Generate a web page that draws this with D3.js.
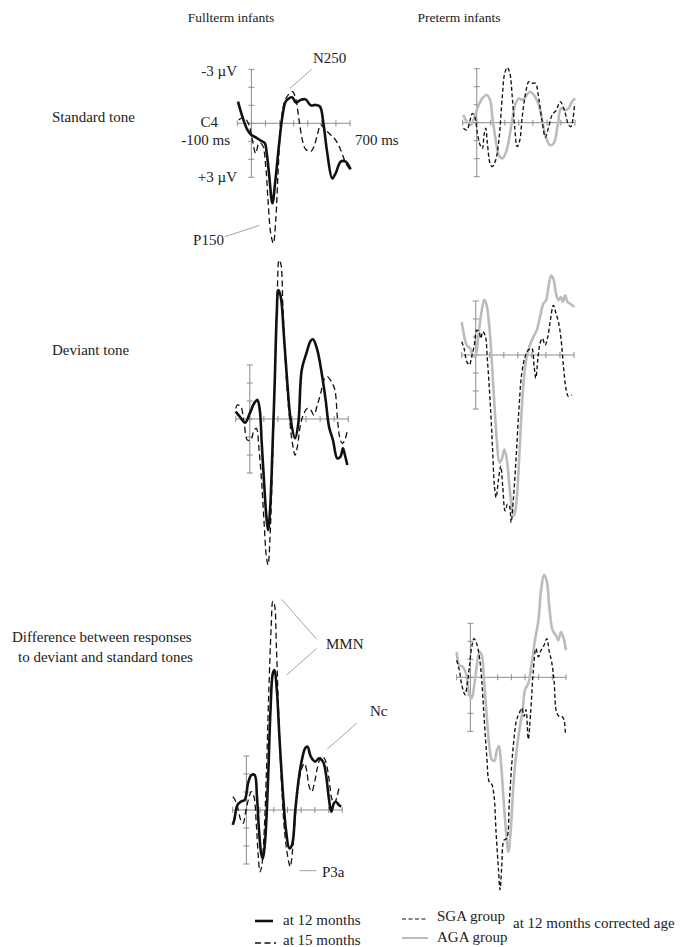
<!DOCTYPE html>
<html><head><meta charset="utf-8">
<script src="https://cdn.jsdelivr.net/npm/d3@7"></script>
<style>
body{margin:0;background:#fff}
svg text{font-family:"Liberation Serif","Times New Roman",serif;fill:#222}
</style>
</head><body>
<svg id="c" width="680" height="947"></svg>
<script>
// ---- tick values ----
const xTicks = [-100, 0, 100, 200, 300, 400, 500, 600, 700];   // ms
const yTicks = [-3, -2, -1, 0, 1, 2, 3];                        // µV (negative up)

// ---- waveforms: [ms, µV] ----
const stdFull12 = [[-95,-1.2],[-64,-0.37],[-28,0.37],[0,0.65],[31,0.78],[66,0.96],[95,1.1],[109,1.67],[125,2.78],[149,4.44],[170,3.2],[196,1.2],[220,-0.37],[243,-1.2],[267,-1.39],[291,-1.44],[316,-1.15],[350,-1.3],[385,-1.33],[421,-1.0],[456,-1.02],[487,-0.93],[511,0],[539,1.67],[574,3.06],[598,2.78],[634,2.13],[669,2.13],[704,2.56]];
const stdFull15 = [[-90,-0.19],[-52,-0.33],[-17,0.09],[7,0.93],[31,1.67],[54,1.1],[78,1.2],[102,2.4],[118,4.26],[137,6.1],[156,6.67],[173,5.37],[189,2.78],[208,0.19],[232,-1.1],[260,-1.57],[291,-1.76],[314,-1.39],[338,-0.19],[362,0.93],[385,1.44],[421,1.57],[444,1.3],[468,0.65],[492,0.09],[527,0.37],[563,0.65],[598,0.93],[634,1.48],[669,2.2],[693,2.5]];
const stdPreAGA = [[-95,-0.43],[-71,-0.06],[-43,0.13],[-19,-0.24],[9,-0.89],[40,-1.35],[71,-1.54],[95,-1.26],[111,-0.33],[135,0.96],[158,1.8],[182,1.98],[206,1.7],[229,0.96],[253,-0.15],[277,-1.07],[300,-1.35],[324,-1.26],[348,-1.44],[378,-1.72],[407,-1.54],[442,-0.98],[466,-0.15],[489,0.69],[520,1.24],[548,1.15],[577,0.13],[600,-0.8],[631,-0.7],[655,-0.8],[678,-1.17],[702,-1.35]];
const stdPreSGA = [[-95,0.31],[-71,0.41],[-47,-0.15],[-31,-0.52],[-14,-0.33],[5,0.59],[24,1.24],[40,1.43],[52,0.69],[64,0.31],[76,1.15],[95,2.26],[111,2.44],[135,2.07],[158,0.96],[182,-1.44],[199,-2.74],[218,-3.07],[236,-2.74],[253,-1.44],[270,0.22],[288,1.33],[307,0.96],[324,-0.33],[348,-1.63],[371,-2.28],[395,-2.19],[418,-2.19],[442,-1.35],[466,-0.06],[489,0.81],[513,0.22],[537,-0.43],[567,-0.7],[595,-1.17],[624,-0.7],[655,0.13],[671,0.22],[686,-0.24],[697,-1.07]];
const devFull12 = [[-100,-0.41],[-71,-0.13],[-33,0.2],[0,-0.31],[31,-0.87],[54,-1.06],[71,-0.5],[85,1.35],[102,3.57],[118,5.43],[130,6.17],[144,5.06],[161,1.72],[177,-1.98],[191,-5.69],[203,-7.17],[220,-6.8],[243,-4.57],[267,-1.98],[291,0.06],[322,1.07],[345,0.24],[369,-2.72],[402,-3.65],[433,-4.35],[449,-4.43],[480,-3.83],[515,-2.35],[539,-1.06],[563,0.43],[591,1.17],[622,2.19],[645,2.09],[662,1.63],[676,2.0],[693,2.56]];
const devFull15 = [[-100,-0.59],[-87,-0.78],[-64,-0.69],[-40,0.24],[-17,1.17],[7,1.17],[31,0.61],[47,0.52],[66,1.72],[85,3.57],[102,5.8],[118,7.65],[130,8.1],[144,6.54],[161,2.65],[180,-2.9],[196,-7.17],[208,-8.83],[220,-8.65],[236,-6.06],[255,-2.9],[279,-0.31],[303,1.35],[322,2.0],[338,1.54],[362,0.24],[385,-0.31],[409,-0.59],[433,-0.5],[456,-0.22],[480,-0.78],[504,-1.43],[527,-2.17],[551,-2.35],[586,-1.98],[605,-1.61],[622,-0.13],[638,0.98],[657,1.35],[676,1.17],[693,0.61]];
const devPreAGA = [[-100,-1.84],[-88,-1.29],[-64,-0.55],[-40,-0.37],[-17,0.09],[2,-0.09],[19,-1.1],[43,-2.49],[62,-3.07],[78,-2.76],[97,-1.56],[114,0.28],[131,2.49],[150,4.7],[169,5.98],[185,5.8],[204,5.25],[221,5.8],[240,7.27],[257,8.47],[273,8.93],[287,8.38],[304,6.54],[321,3.96],[340,1.57],[359,0.28],[382,-0.46],[411,-1.01],[435,-1.38],[458,-2.12],[482,-2.85],[501,-3.04],[518,-3.78],[537,-4.42],[553,-4.24],[572,-3.41],[589,-3.04],[606,-3.22],[620,-2.95],[637,-3.31],[653,-2.95],[672,-2.85],[703,-2.67]];
const devPreSGA = [[-100,-0.74],[-83,-0.37],[-64,0.37],[-45,0.55],[-29,0.09],[-10,-0.55],[7,-1.38],[24,-1.29],[36,-0.92],[50,-1.29],[67,-1.1],[83,0.28],[102,2.49],[119,5.07],[133,7.27],[145,7.92],[162,6.91],[178,6.17],[192,7.27],[209,8.66],[226,8.29],[240,8.38],[252,9.3],[268,8.01],[287,5.8],[306,3.22],[328,1.01],[352,0.09],[375,-0.28],[399,-0.37],[416,0.64],[428,1.29],[442,0.28],[458,-0.64],[475,-0.92],[494,-0.55],[511,-0.92],[530,-1.84],[553,-2.76],[572,-2.3],[589,-1.84],[606,-1.01],[625,0.64],[644,1.93],[660,2.3],[684,2.21]];
const difFull12 = [[-100,0.83],[-89,0.56],[-65,-0.28],[-41,-0.46],[-12,-0.56],[12,-1.48],[36,-1.94],[60,-1.94],[77,-0.74],[92,1.11],[108,2.41],[120,2.69],[137,1.67],[157,-1.48],[176,-5.56],[193,-7.59],[205,-7.78],[222,-6.67],[241,-4.07],[265,-1.11],[289,1.11],[313,2.13],[333,1.94],[357,0],[381,-1.67],[405,-2.78],[429,-3.43],[446,-3.52],[470,-2.96],[501,-2.69],[530,-2.87],[559,-2.69],[578,-2.13],[602,-0.65],[619,0.09],[639,-0.37],[655,-0.46],[675,-0.28],[692,-0.19]];
const difFull15 = [[-100,-0.74],[-89,-0.65],[-65,-0.19],[-41,0.56],[-24,0.74],[-5,0.09],[14,-0.56],[36,-1.02],[55,-0.74],[72,0.74],[87,2.59],[99,3.43],[111,3.15],[128,1.48],[145,-1.85],[164,-6.67],[181,-10.2],[193,-11.6],[205,-11.4],[219,-9.07],[236,-5.19],[255,-1.67],[280,1.3],[304,2.69],[320,3.15],[337,2.22],[357,0.37],[376,-1.11],[400,-2.22],[424,-2.59],[441,-2.13],[458,-1.3],[477,-1.02],[501,-1.67],[520,-2.41],[545,-2.96],[569,-2.87],[593,-2.22],[610,-1.3],[622,-0.65],[641,-0.37],[658,-0.65],[675,-1.2]];
const difPreAGA = [[-100,-1.41],[-81,-0.68],[-56,-0.59],[-32,-0.22],[-7,0.97],[10,1.16],[29,0.42],[46,-0.59],[66,-1.41],[83,-1.23],[100,0.15],[120,2.17],[139,3.82],[156,4.55],[176,4.64],[193,4.09],[210,3.82],[224,4.73],[241,6.56],[261,8.57],[278,9.69],[295,8.57],[315,6.0],[334,4.37],[359,2.9],[383,1.8],[400,0.7],[424,0.33],[449,-0.77],[473,-2.06],[498,-3.16],[517,-4.81],[539,-5.69],[559,-5.36],[578,-3.89],[602,-2.61],[627,-2.33],[644,-2.06],[663,-2.51],[680,-2.24],[700,-1.5]];
const difPreSGA = [[-100,-0.95],[-81,-0.4],[-63,0.42],[-39,0.97],[-22,0.33],[-7,-0.59],[10,-1.69],[27,-2.15],[46,-1.87],[66,-1.14],[83,0.15],[100,2.17],[120,4.37],[139,5.83],[156,5.93],[173,6.57],[188,8.59],[205,10.6],[217,11.8],[229,10.6],[246,9.05],[266,8.95],[285,6.94],[302,4.92],[319,3.45],[339,2.35],[359,1.98],[376,1.71],[393,2.17],[407,1.8],[424,3.45],[441,1.98],[461,-0.4],[480,-1.6],[498,-1.14],[517,-1.5],[539,-1.78],[559,-2.15],[578,-1.41],[595,-0.86],[612,0.15],[632,1.98],[651,2.17],[668,2.17],[685,2.35],[695,3.08]];

// ---- styles ----
const styles = {
  m12: {stroke:"#111", width:2.6, dash:null},
  m15: {stroke:"#111", width:1.3, dash:"6,3.5"},
  sga: {stroke:"#111", width:1.35, dash:"4,2.5"},
  aga: {stroke:"#bcbcbc", width:2.6, dash:null}
};

// ---- panel layout ----
const panels = [
  {xL:237.3, xR:350, zero:123.3, series:[[stdFull15,"m15"],[stdFull12,"m12"]]},
  {xL:462.7, xR:575, zero:122.7, series:[[stdPreAGA,"aga"],[stdPreSGA,"sga"]]},
  {xL:235.7, xR:348.3, zero:419, series:[[devFull15,"m15"],[devFull12,"m12"]]},
  {xL:461.7, xR:574, zero:355, series:[[devPreAGA,"aga"],[devPreSGA,"sga"]]},
  {xL:232.7, xR:342.3, zero:810, series:[[difFull15,"m15"],[difFull12,"m12"]]},
  {xL:456.7, xR:566, zero:677.3, series:[[difPreAGA,"aga"],[difPreSGA,"sga"]]}
];

// annotations in each panel's data coordinates [ms, µV]
const annotations = [
  {p:0, texts:[
    {t:"-3 \u00b5V", at:[-102,-2.63], anchor:"end"},
    {t:"+3 \u00b5V", at:[-102,3.26], anchor:"end"},
    {t:"C4", at:[-237,0.2], anchor:"end"},
    {t:"-100 ms", at:[-152,1.2], anchor:"end"},
    {t:"700 ms", at:[735,1.2], anchor:"start"},
    {t:"N250", at:[437,-3.35], anchor:"start"},
    {t:"P150", at:[-414,6.76], anchor:"start"}],
   lines:[[[428,-3.0],[274,-1.94]], [[-187,6.3],[56,5.67]]]},
  {p:4, texts:[
    {t:"MMN", at:[581,-8.94], anchor:"start"},
    {t:"Nc", at:[902,-5.22], anchor:"start"},
    {t:"P3a", at:[552,3.72], anchor:"start"}],
   lines:[[[258,-11.7],[513,-9.48]], [[513,-8.98],[294,-7.5]], [[805,-4.82],[591,-3.39]], [[386,3.37],[513,3.37]]]}
];

const svg = d3.select("#c");
const axisColor = "#8c8c8c";

panels.forEach((P, i) => {
  const x = d3.scaleLinear().domain([-100, 700]).range([P.xL, P.xR]);
  const y = d3.scaleLinear().domain([-3, 3]).range([P.zero - 54, P.zero + 54]);
  P.x = x; P.y = y;
  const g = svg.append("g");
  // axes
  g.append("line").attr("x1", x(-100)).attr("x2", x(700)).attr("y1", y(0)).attr("y2", y(0))
    .attr("stroke", axisColor).attr("stroke-width", 1);
  g.append("line").attr("x1", x(0)).attr("x2", x(0)).attr("y1", y(-3)).attr("y2", y(3))
    .attr("stroke", axisColor).attr("stroke-width", 1);
  g.selectAll(".xt").data(xTicks).enter().append("line")
    .attr("x1", d => x(d)).attr("x2", d => x(d)).attr("y1", y(0) - 3).attr("y2", y(0) + 3)
    .attr("stroke", axisColor).attr("stroke-width", 1);
  g.selectAll(".yt").data(yTicks).enter().append("line")
    .attr("x1", x(0) - 3).attr("x2", x(0) + 3).attr("y1", d => y(d)).attr("y2", d => y(d))
    .attr("stroke", axisColor).attr("stroke-width", 1);
  // waves
  const line = d3.line().x(d => x(d[0])).y(d => y(d[1])).curve(d3.curveCatmullRom.alpha(0.5));
  P.series.forEach(([data, key]) => {
    const s = styles[key];
    g.append("path").datum(data).attr("d", line).attr("fill", "none")
      .attr("stroke", s.stroke).attr("stroke-width", s.width)
      .attr("stroke-dasharray", s.dash).attr("stroke-linejoin", "round").attr("stroke-linecap", "butt");
  });
});

annotations.forEach(A => {
  const P = panels[A.p];
  A.lines.forEach(l => {
    svg.append("line").attr("x1", P.x(l[0][0])).attr("y1", P.y(l[0][1]))
      .attr("x2", P.x(l[1][0])).attr("y2", P.y(l[1][1]))
      .attr("stroke", "#999").attr("stroke-width", 0.9);
  });
  A.texts.forEach(t => {
    svg.append("text").attr("x", P.x(t.at[0])).attr("y", P.y(t.at[1]))
      .attr("text-anchor", t.anchor).attr("font-size", 15).text(t.t);
  });
});

// titles & row labels
svg.append("text").attr("x", 231).attr("y", 22).attr("text-anchor", "middle").attr("font-size", 13.5).text("Fullterm infants");
svg.append("text").attr("x", 459).attr("y", 22).attr("text-anchor", "middle").attr("font-size", 13.5).text("Preterm infants");
svg.append("text").attr("x", 52).attr("y", 122).attr("font-size", 15).text("Standard tone");
svg.append("text").attr("x", 52).attr("y", 355).attr("font-size", 15).text("Deviant tone");
svg.append("text").attr("x", 12).attr("y", 642).attr("font-size", 15).text("Difference between responses");
svg.append("text").attr("x", 18).attr("y", 662).attr("font-size", 15).text("to deviant and standard tones");

// legend
const leg = svg.append("g");
leg.append("line").attr("x1", 255).attr("x2", 273).attr("y1", 921).attr("y2", 921).attr("stroke", "#111").attr("stroke-width", 2.6);
leg.append("text").attr("x", 283).attr("y", 925).attr("font-size", 15).text("at 12 months");
leg.append("line").attr("x1", 255).attr("x2", 276).attr("y1", 943).attr("y2", 943).attr("stroke", "#111").attr("stroke-width", 1.3).attr("stroke-dasharray", "6,3.5");
leg.append("text").attr("x", 283).attr("y", 945).attr("font-size", 15).text("at 15 months");
leg.append("line").attr("x1", 402).attr("x2", 428).attr("y1", 919).attr("y2", 919).attr("stroke", "#111").attr("stroke-width", 1.2).attr("stroke-dasharray", "4,2.5");
leg.append("text").attr("x", 437).attr("y", 921).attr("font-size", 15).text("SGA group");
leg.append("line").attr("x1", 402).attr("x2", 428).attr("y1", 938).attr("y2", 938).attr("stroke", "#bcbcbc").attr("stroke-width", 2);
leg.append("text").attr("x", 437).attr("y", 942).attr("font-size", 15).text("AGA group");
leg.append("text").attr("x", 513).attr("y", 928).attr("font-size", 15).text("at 12 months corrected age");
</script>
</body></html>
